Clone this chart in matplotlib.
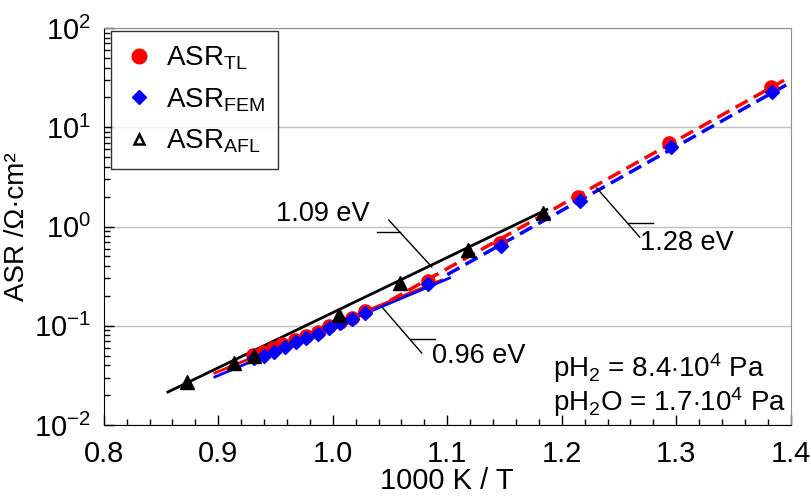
import matplotlib
matplotlib.use("Agg")
import matplotlib.pyplot as plt
from matplotlib.lines import Line2D
from matplotlib.ticker import LogLocator, LogFormatterMathtext, MultipleLocator, FormatStrFormatter
from matplotlib import font_manager

plt.rcParams['font.family'] = ['Liberation Sans', 'DejaVu Sans']
plt.rcParams['mathtext.fontset'] = 'custom'
plt.rcParams['mathtext.rm'] = 'Liberation Sans'
plt.rcParams['mathtext.it'] = 'Liberation Sans:italic'
plt.rcParams['mathtext.bf'] = 'Liberation Sans:bold'
plt.rcParams['axes.unicode_minus'] = False

names = {f.name for f in font_manager.fontManager.ttflist}
narrow = 'Liberation Sans Narrow' if 'Liberation Sans Narrow' in names else 'Liberation Sans'

# Daten (1000 K / T, ASR in Ohm cm^2)
x_tl = [0.930, 0.939, 0.948, 0.956, 0.967, 0.977, 0.987, 0.9965, 1.006, 1.0166, 1.028,
        1.083, 1.146, 1.214, 1.294, 1.383]
asr_tl = [0.0507, 0.0545, 0.0597, 0.0655, 0.0718, 0.0788, 0.0865, 0.0994, 0.109, 0.120, 0.141,
          0.282, 0.682, 1.98, 6.93, 25.4]
x_fem = [0.931, 0.940, 0.949, 0.958, 0.968, 0.977, 0.987, 0.9965, 1.006, 1.0166, 1.028,
         1.083, 1.147, 1.216, 1.295, 1.384]
asr_fem = [0.0473, 0.0496, 0.0545, 0.0611, 0.0686, 0.0753, 0.0826, 0.0949, 0.107, 0.117, 0.134,
           0.264, 0.637, 1.81, 6.32, 22.6]
x_afl = [0.873, 0.9135, 0.931, 1.005, 1.0585, 1.118, 1.1834]
asr_afl = [0.0271, 0.0421, 0.0496, 0.128, 0.270, 0.579, 1.37]

# Fitgeraden
fit_afl_x = [0.856, 1.187]
fit_afl_y = [0.0215, 1.485]
fit_tl_x = [0.897, 1.095]
fit_tl_y = [0.0334, 0.289]
fit_fem_x = [0.897, 1.102]
fit_fem_y = [0.0305, 0.303]
fit_tl_lo_x = [1.05, 1.396]
fit_tl_lo_y = [0.1795, 30.6]
fit_fem_lo_x = [1.10, 1.396]
fit_fem_lo_y = [0.328, 26.7]

fig = plt.figure(figsize=(8.11, 4.98), dpi=100)
ax = fig.add_axes([0.128, 0.1466, 0.847, 0.797])

ax.plot(fit_tl_x, fit_tl_y, color='red', lw=2, zorder=2)
ax.plot(fit_fem_x, fit_fem_y, color='blue', lw=2, zorder=2)
ax.plot(fit_tl_lo_x, fit_tl_lo_y, color='red', lw=2.5, ls=(0, (4, 2)), zorder=2)
ax.plot(fit_fem_lo_x, fit_fem_lo_y, color='blue', lw=2.5, ls=(0, (4, 2)), zorder=2)
ax.plot(fit_afl_x, fit_afl_y, color='black', lw=2, zorder=3)

ax.plot(x_tl, asr_tl, 'o', color='red', ms=9.5, mec='red', zorder=4)
ax.plot(x_fem, asr_fem, 'D', color='blue', ms=7.5, mec='blue', zorder=5)
ax.plot(x_afl, asr_afl, '^', color='black', ms=9.5, zorder=6)

# Beschriftung der Aktivierungsenergien
ax.plot([1.0384, 1.0585], [0.880, 0.880], color='black', lw=1)
ax.plot([1.0489, 1.0865], [1.163, 0.391], color='black', lw=1)
ax.text(1.032, 1.34, '1.09 eV', ha='right', va='center', fontsize=19.5)

ax.plot([1.0672, 1.0891], [0.0735, 0.0735], color='black', lw=1)
ax.plot([1.0437, 1.0777], [0.151, 0.0531], color='black', lw=1)
ax.text(1.0865, 0.0496, '0.96 eV', ha='left', va='center', fontsize=19.5)

ax.plot([1.2576, 1.2795], [1.084, 1.084], color='black', lw=1)
ax.plot([1.2306, 1.2681], [2.44, 0.783], color='black', lw=1)
ax.text(1.268, 0.682, '1.28 eV', ha='left', va='center', fontsize=19.5)

ax.text(1.192, 0.0375, r'pH$_2$ = 8.4$\cdot$10$^4$ Pa', ha='left', va='center', fontsize=20)
ax.text(1.192, 0.01705, r'pH$_2$O = 1.7$\cdot$10$^4$ Pa', ha='left', va='center', fontsize=20)

ax.set_yscale('log')
ax.set_xlim(0.8, 1.4)
ax.set_ylim(1e-2, 1e2)
ax.xaxis.set_major_locator(MultipleLocator(0.1))
ax.xaxis.set_minor_locator(MultipleLocator(0.02))
ax.xaxis.set_major_formatter(FormatStrFormatter('%.1f'))
ax.yaxis.set_major_locator(LogLocator(base=10, numticks=10))
ax.yaxis.set_minor_locator(LogLocator(base=10, subs=range(2, 10), numticks=20))
ax.yaxis.set_major_formatter(LogFormatterMathtext())
ax.tick_params(which='both', direction='in', top=False, right=False, labelsize=21)
ax.tick_params(which='major', length=7, width=1)
ax.tick_params(which='minor', length=4, width=1)
ax.tick_params(axis='x', pad=11)
ax.tick_params(axis='y', pad=9)
for lab in ax.get_xticklabels():
    lab.set_family(narrow)
ax.grid(True, axis='y', which='major', color='#c0c0c0', lw=1)
ax.set_axisbelow(True)
ax.spines['top'].set_color('#909090')
ax.spines['right'].set_color('#909090')

ax.set_xlabel('1000 K / T', fontsize=21, family=narrow, labelpad=-1)
ax.set_ylabel('ASR /Ω·cm²', fontsize=20)
ax.yaxis.set_label_coords(-0.108, 0.5)

handles = [
    Line2D([], [], marker='o', ls='none', color='red', ms=10.5),
    Line2D([], [], marker='D', ls='none', color='blue', ms=7.5),
    Line2D([], [], marker='^', ls='none', mfc='white', mec='black', mew=1.8, ms=7),
]
labels = [r'ASR$_{\mathrm{TL}}$', r'ASR$_{\mathrm{FEM}}$', r'ASR$_{\mathrm{AFL}}$']
leg = ax.legend(handles, labels, loc='upper left', fontsize=20, frameon=True, fancybox=False,
                edgecolor='black', borderpad=0.5, handletextpad=0.45, handlelength=1.0,
                labelspacing=0.5, borderaxespad=0, bbox_to_anchor=(0.011, 0.993))
leg.get_frame().set_linewidth(1)

fig.savefig('out.png', dpi=100)
